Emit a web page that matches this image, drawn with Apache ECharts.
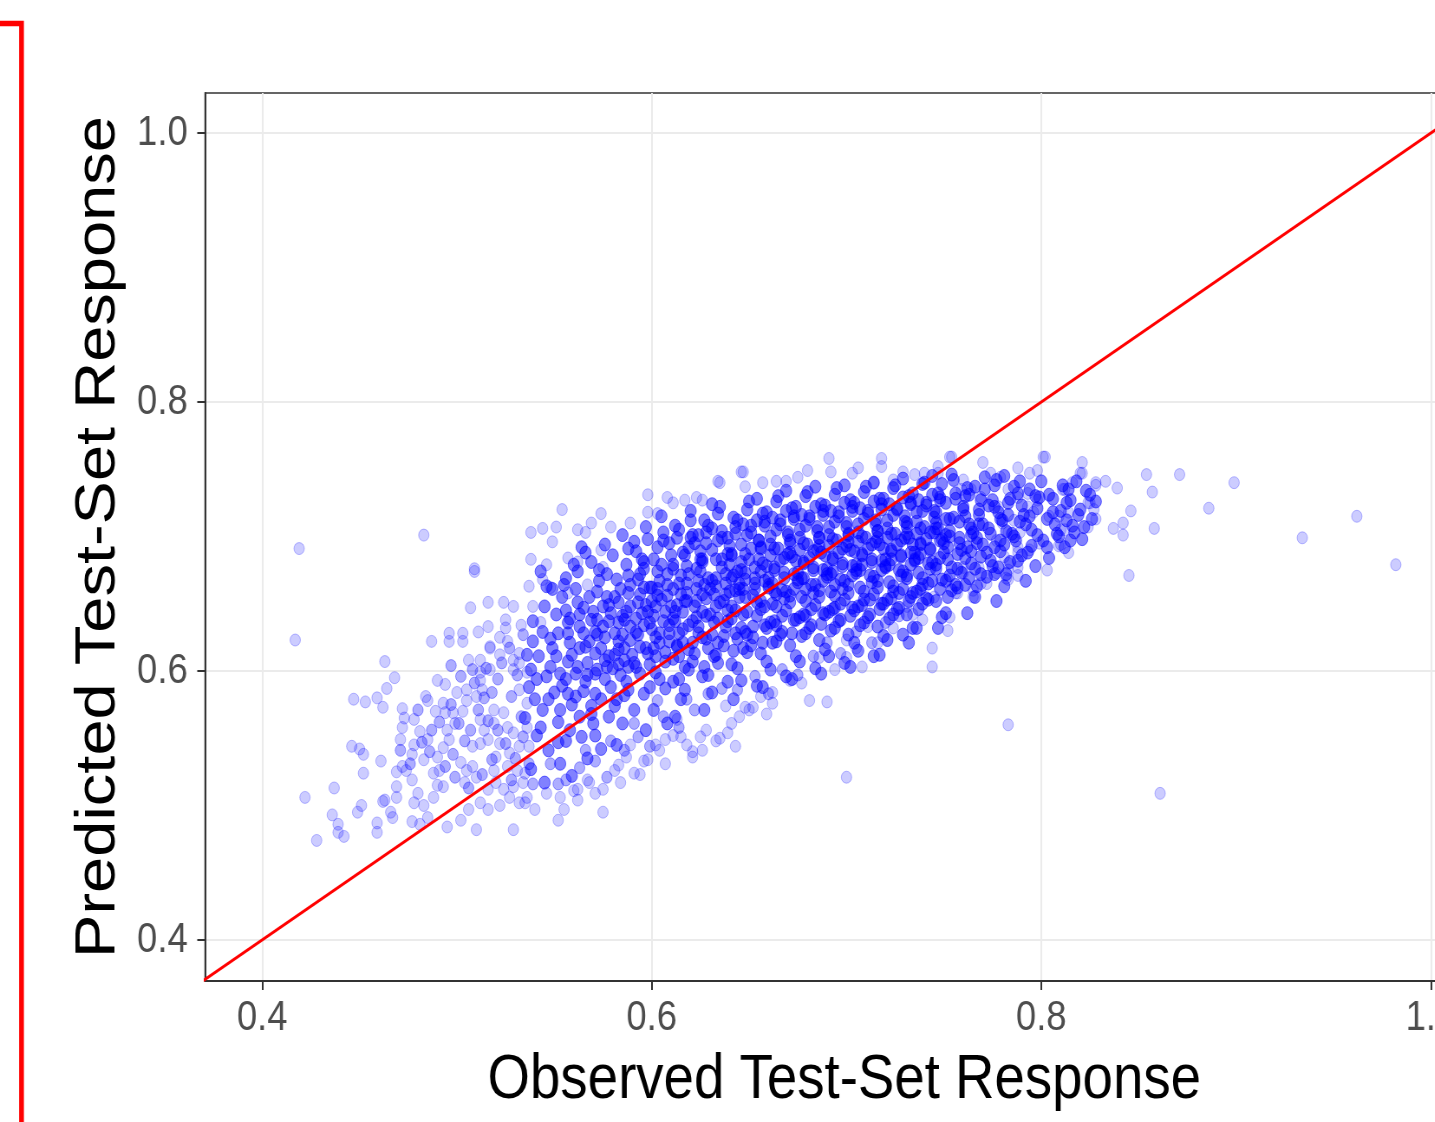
<!DOCTYPE html>
<html>
<head>
<meta charset="utf-8">
<title>Observed vs Predicted Test-Set Response</title>
<script src="https://cdn.jsdelivr.net/npm/echarts@6/dist/echarts.min.js"></script>
<style>
  html, body { margin: 0; padding: 0; background: #fff; overflow: hidden; }
  /* the source picture is squeezed sideways, so draw wide and squeeze it back */
  #chart { width: 1655px; height: 1122px; transform: scaleX(0.867); transform-origin: 0 0; }
</style>
</head>
<body>
<div id="chart"></div>
<script>
// axis ranges and ticks
const xRange = [0.3707, 1.027];
const yRange = [0.3695, 1.0297];
const xTicks = [0.4, 0.6, 0.8, 1.0];
const yTicks = [0.4, 0.6, 0.8, 1.0];
const identityLine = [0.3, 1.1];

// [observed, predicted]
const lowerTail = [
  [0.417,0.623],[0.419,0.691],[0.422,0.506],[0.428,0.474],[0.436,0.493],[0.437,0.513],[0.439,0.486],[0.439,0.480],[0.442,0.477],
  [0.446,0.544],[0.447,0.579],[0.449,0.495],[0.450,0.542],[0.451,0.500],[0.452,0.538],[0.452,0.524],[0.453,0.577],[0.459,0.580],
  [0.459,0.487],[0.459,0.480],[0.461,0.533],[0.462,0.573],[0.462,0.503],[0.463,0.607],[0.463,0.504],[0.464,0.587],[0.466,0.495],
  [0.467,0.491],[0.468,0.595],[0.469,0.506],[0.469,0.514],[0.469,0.525],[0.471,0.549],[0.472,0.529],[0.472,0.558],[0.473,0.565],
  [0.472,0.572],[0.474,0.526],[0.477,0.538],[0.477,0.519],[0.477,0.488],[0.478,0.564],[0.478,0.545],[0.478,0.502],[0.480,0.509],
  [0.481,0.555],[0.481,0.486],[0.483,0.701],[0.483,0.534],[0.483,0.500],[0.484,0.581],[0.485,0.578],[0.485,0.549],[0.485,0.491],
  [0.487,0.622],[0.488,0.524],[0.488,0.506],[0.489,0.570],[0.490,0.593],[0.490,0.536],[0.490,0.515],[0.491,0.526],[0.493,0.576],
  [0.493,0.543],[0.493,0.514],[0.494,0.590],[0.494,0.569],[0.495,0.556],[0.495,0.484],[0.496,0.622],[0.496,0.628],[0.496,0.549],
  [0.498,0.569],[0.499,0.561],[0.500,0.584],[0.502,0.532],[0.502,0.489],[0.503,0.622],[0.503,0.628],[0.503,0.570],[0.504,0.517],
  [0.505,0.578],[0.505,0.586],[0.505,0.526],[0.506,0.608],[0.506,0.497],[0.507,0.647],[0.508,0.529],[0.508,0.544],[0.509,0.674],
  [0.509,0.676],[0.510,0.581],[0.510,0.521],[0.510,0.482],[0.511,0.629],[0.512,0.593],[0.512,0.608],[0.512,0.599],[0.512,0.546],
  [0.512,0.564],[0.512,0.502],[0.513,0.586],[0.514,0.556],[0.516,0.549],[0.516,0.651],[0.516,0.633],[0.516,0.512],[0.516,0.497],
  [0.517,0.601],[0.517,0.617],[0.517,0.618],[0.519,0.561],[0.519,0.571],[0.519,0.526],[0.520,0.536],[0.520,0.517],[0.522,0.612],
  [0.522,0.546],[0.522,0.500],[0.522,0.625],[0.524,0.569],[0.524,0.512],[0.524,0.651],[0.525,0.632],[0.525,0.638],[0.526,0.622],
  [0.526,0.558],[0.526,0.529],[0.527,0.539],[0.527,0.506],[0.529,0.608],[0.529,0.554],[0.529,0.514],[0.529,0.482],[0.529,0.601],
  [0.529,0.648],[0.531,0.526],[0.532,0.613],[0.532,0.544],[0.532,0.502],[0.532,0.586],[0.532,0.606],[0.533,0.634],[0.534,0.517],
  [0.535,0.524],[0.535,0.502],[0.536,0.506],[0.536,0.558],[0.536,0.576],[0.536,0.599],[0.537,0.544],[0.537,0.663],[0.538,0.683],
  [0.538,0.703],[0.539,0.648],[0.540,0.497],[0.543,0.636],[0.544,0.706],[0.544,0.668],[0.546,0.679],[0.546,0.509],[0.548,0.662],
  [0.549,0.696],[0.551,0.707],[0.552,0.489],[0.554,0.720],[0.555,0.497],[0.557,0.684],[0.557,0.658]
];

// the busier part of the lower-left cloud and the strip under the band
const lowerBody = [
  [0.476,0.531],[0.482,0.547],[0.487,0.556],[0.491,0.562],[0.486,0.540],[0.497,0.575],[0.501,0.561],[0.504,0.548],[0.498,0.538],
  [0.507,0.556],[0.511,0.571],[0.514,0.580],[0.509,0.591],[0.518,0.584],[0.521,0.594],[0.515,0.602],[0.523,0.606],[0.527,0.617],
  [0.531,0.597],[0.528,0.581],[0.525,0.546],[0.530,0.535],[0.534,0.551],[0.533,0.566],[0.537,0.531],[0.518,0.534],[0.513,0.523],
  [0.506,0.513],[0.499,0.521],[0.494,0.529],[0.528,0.519],[0.539,0.516],[0.534,0.627],[0.521,0.556],[0.516,0.563],[0.508,0.601],
  [0.502,0.596],[0.497,0.604],[0.480,0.571],[0.471,0.541],
  [0.548,0.531],[0.556,0.519],[0.563,0.528],[0.571,0.533],[0.577,0.521],[0.586,0.541],[0.593,0.551],[0.599,0.544],[0.606,0.566],
  [0.614,0.558],[0.622,0.571],[0.629,0.583],[0.636,0.587],[0.579,0.548],[0.566,0.541],[0.552,0.516],[0.591,0.561],[0.603,0.578],
  [0.618,0.579],[0.644,0.586],[0.653,0.596],[0.660,0.583],[0.667,0.601],[0.675,0.597],[0.683,0.611],[0.690,0.621],[0.697,0.613],
  [0.705,0.629],[0.713,0.621],[0.720,0.636],[0.727,0.641]
];

// thin rim round the dense band, plus the stragglers on the right
const rim = [
  [0.562,0.705],[0.562,0.681],[0.562,0.504],[0.562,0.512],[0.566,0.703],[0.567,0.664],[0.568,0.517],[0.569,0.710],[0.571,0.509],
  [0.574,0.717],[0.574,0.690],[0.575,0.677],[0.575,0.512],[0.575,0.495],[0.579,0.707],[0.581,0.526],[0.584,0.517],[0.587,0.536],
  [0.589,0.710],[0.591,0.524],[0.594,0.523],[0.598,0.731],[0.598,0.718],[0.598,0.534],[0.602,0.545],[0.603,0.717],[0.607,0.549],
  [0.608,0.729],[0.611,0.725],[0.613,0.564],[0.615,0.551],[0.617,0.727],[0.621,0.536],[0.623,0.729],[0.625,0.551],[0.626,0.727],
  [0.626,0.541],[0.634,0.741],[0.635,0.740],[0.635,0.550],[0.639,0.554],[0.641,0.561],[0.643,0.544],[0.646,0.748],[0.647,0.748],
  [0.648,0.737],[0.648,0.573],[0.650,0.571],[0.656,0.581],[0.657,0.740],[0.662,0.584],[0.662,0.576],[0.664,0.741],[0.669,0.741],
  [0.671,0.593],[0.675,0.744],[0.677,0.591],[0.680,0.749],[0.681,0.578],[0.686,0.610],[0.690,0.577],[0.691,0.758],[0.692,0.748],
  [0.694,0.601],[0.700,0.610],[0.700,0.623],[0.700,0.521],[0.703,0.747],[0.705,0.617],[0.706,0.751],[0.708,0.603],[0.711,0.633],
  [0.714,0.740],[0.716,0.621],[0.718,0.758],[0.718,0.752],[0.724,0.742],[0.724,0.632],[0.729,0.748],[0.731,0.648],[0.734,0.642],
  [0.735,0.746],[0.739,0.638],[0.740,0.747],[0.744,0.617],[0.744,0.603],[0.745,0.655],[0.747,0.752],[0.747,0.747],[0.752,0.630],
  [0.752,0.668],[0.753,0.640],[0.753,0.759],[0.754,0.759],[0.756,0.658],[0.757,0.658],[0.759,0.735],[0.760,0.742],[0.760,0.677],
  [0.760,0.673],[0.764,0.735],[0.765,0.660],[0.765,0.655],[0.768,0.677],[0.769,0.665],[0.769,0.729],[0.770,0.755],[0.772,0.665],
  [0.774,0.747],[0.777,0.673],[0.777,0.697],[0.778,0.722],[0.779,0.744],[0.780,0.710],[0.781,0.685],[0.782,0.669],[0.783,0.668],
  [0.783,0.675],[0.783,0.735],[0.783,0.703],[0.783,0.680],[0.783,0.560],[0.786,0.712],[0.788,0.751],[0.788,0.692],[0.788,0.688],
  [0.788,0.671],[0.788,0.729],[0.788,0.677],[0.789,0.703],[0.793,0.722],[0.793,0.732],[0.794,0.747],[0.794,0.690],[0.796,0.718],
  [0.798,0.749],[0.798,0.727],[0.799,0.695],[0.801,0.759],[0.802,0.759],[0.803,0.675],[0.804,0.715],[0.809,0.715],[0.809,0.693],
  [0.810,0.694],[0.810,0.705],[0.811,0.735],[0.812,0.735],[0.812,0.705],[0.814,0.718],[0.814,0.688],[0.816,0.740],[0.820,0.747],
  [0.821,0.755],[0.821,0.747],[0.824,0.725],[0.824,0.707],[0.825,0.725],[0.827,0.720],[0.828,0.740],[0.828,0.713],[0.828,0.738],
  [0.833,0.741],[0.837,0.706],[0.839,0.736],[0.842,0.701],[0.842,0.710],[0.845,0.671],[0.846,0.719],[0.854,0.746],[0.857,0.733],
  [0.858,0.706],[0.861,0.509],[0.871,0.746],[0.886,0.721],[0.899,0.740],[0.934,0.699],[0.962,0.715],[0.982,0.679],
  [0.628,0.556],[0.633,0.548],[0.618,0.545],[0.611,0.552],[0.604,0.541],[0.596,0.533],[0.589,0.545],[0.583,0.530],[0.567,0.519],
  [0.560,0.511],[0.553,0.506],[0.607,0.531],[0.621,0.540],[0.645,0.566],[0.652,0.573],[0.659,0.568],[0.638,0.574]
];

// the heavily overplotted band, estimated strip by strip
const core = [
  [0.538,0.527],[0.541,0.552],[0.544,0.571],[0.537,0.588],[0.546,0.596],[0.542,0.611],[0.548,0.624],[0.539,0.637],[0.545,0.648],
  [0.549,0.661],[0.543,0.674],[0.536,0.612],[0.547,0.541],[0.540,0.579],[0.550,0.584],[0.545,0.517],[0.548,0.603],[0.535,0.565],
  [0.553,0.531],[0.556,0.548],[0.552,0.562],[0.559,0.575],[0.554,0.589],[0.561,0.598],[0.557,0.607],[0.563,0.617],[0.552,0.628],
  [0.558,0.639],[0.562,0.651],[0.555,0.664],[0.560,0.679],[0.564,0.692],[0.551,0.611],[0.557,0.583],[0.563,0.566],[0.559,0.522],
  [0.556,0.645],[0.562,0.603],[0.553,0.598],[0.565,0.585],[0.558,0.621],
  [0.567,0.535],[0.571,0.552],[0.569,0.568],[0.574,0.579],[0.566,0.592],[0.572,0.601],[0.578,0.611],[0.568,0.622],[0.575,0.633],
  [0.570,0.644],[0.577,0.655],[0.573,0.667],[0.569,0.681],[0.576,0.694],[0.579,0.588],[0.571,0.613],[0.576,0.625],[0.567,0.606],
  [0.579,0.643],[0.572,0.659],[0.565,0.647],[0.578,0.566],[0.574,0.542],[0.580,0.602],
  [0.582,0.545],[0.585,0.561],[0.581,0.574],[0.588,0.586],[0.584,0.597],[0.591,0.606],[0.586,0.617],[0.593,0.627],[0.583,0.636],
  [0.589,0.648],[0.594,0.657],[0.582,0.668],[0.587,0.679],[0.592,0.689],[0.585,0.701],[0.590,0.612],[0.594,0.598],[0.581,0.655],
  [0.589,0.633],[0.593,0.668],[0.586,0.582],[0.591,0.571],[0.583,0.622],[0.595,0.643],[0.588,0.691],
  [0.597,0.556],[0.601,0.571],[0.596,0.583],[0.604,0.594],[0.599,0.605],[0.607,0.614],[0.602,0.625],[0.609,0.634],[0.598,0.644],
  [0.605,0.653],[0.600,0.662],[0.608,0.672],[0.596,0.681],[0.603,0.692],[0.606,0.703],[0.601,0.641],[0.609,0.622],[0.597,0.617],
  [0.604,0.667],[0.607,0.587],[0.600,0.631],[0.610,0.648],[0.598,0.698],[0.605,0.679],[0.602,0.611],[0.608,0.561],
  [0.612,0.566],[0.615,0.579],[0.611,0.592],[0.619,0.601],[0.614,0.611],[0.621,0.621],[0.616,0.631],[0.623,0.640],[0.613,0.649],
  [0.618,0.658],[0.624,0.667],[0.611,0.676],[0.617,0.686],[0.622,0.695],[0.614,0.705],[0.620,0.712],[0.616,0.644],[0.623,0.652],
  [0.612,0.637],[0.619,0.672],[0.625,0.683],[0.613,0.618],[0.621,0.607],[0.617,0.586],[0.624,0.628],[0.611,0.661],[0.620,0.699],
  [0.627,0.571],[0.631,0.584],[0.626,0.596],[0.634,0.606],[0.629,0.617],[0.637,0.626],[0.632,0.636],[0.639,0.645],[0.628,0.654],
  [0.633,0.663],[0.638,0.672],[0.626,0.681],[0.631,0.690],[0.636,0.699],[0.629,0.708],[0.634,0.717],[0.639,0.687],[0.627,0.664],
  [0.635,0.651],[0.630,0.642],[0.638,0.633],[0.626,0.625],[0.633,0.612],[0.640,0.659],[0.628,0.695],[0.636,0.677],[0.631,0.724],
  [0.639,0.592],
  [0.642,0.579],[0.646,0.593],[0.641,0.605],[0.649,0.614],[0.644,0.624],[0.652,0.633],[0.647,0.642],[0.654,0.651],[0.643,0.660],
  [0.648,0.668],[0.653,0.677],[0.641,0.686],[0.646,0.694],[0.651,0.703],[0.644,0.712],[0.649,0.720],[0.654,0.728],[0.642,0.671],
  [0.650,0.683],[0.645,0.655],[0.653,0.661],[0.641,0.639],[0.648,0.629],[0.655,0.697],[0.643,0.702],[0.651,0.619],[0.646,0.675],
  [0.654,0.589],
  [0.657,0.588],[0.661,0.601],[0.656,0.613],[0.664,0.622],[0.659,0.632],[0.667,0.641],[0.662,0.650],[0.669,0.659],[0.658,0.667],
  [0.663,0.675],[0.668,0.684],[0.656,0.692],[0.661,0.700],[0.666,0.709],[0.659,0.718],[0.664,0.726],[0.669,0.734],[0.657,0.680],
  [0.665,0.691],[0.660,0.662],[0.668,0.669],[0.656,0.646],[0.663,0.637],[0.670,0.703],[0.658,0.708],[0.666,0.627],[0.661,0.686],
  [0.669,0.596],[0.664,0.657],
  [0.672,0.594],[0.676,0.607],[0.671,0.619],[0.679,0.628],[0.674,0.638],[0.682,0.646],[0.677,0.655],[0.684,0.664],[0.673,0.672],
  [0.678,0.680],[0.683,0.689],[0.671,0.697],[0.676,0.705],[0.681,0.713],[0.674,0.722],[0.679,0.730],[0.684,0.737],[0.672,0.685],
  [0.680,0.694],[0.675,0.666],[0.683,0.675],[0.671,0.651],[0.678,0.642],[0.685,0.707],[0.673,0.713],[0.681,0.632],[0.676,0.690],
  [0.684,0.602],[0.679,0.661],
  [0.687,0.598],[0.691,0.611],[0.686,0.623],[0.694,0.632],[0.689,0.642],[0.697,0.650],[0.692,0.659],[0.699,0.667],[0.688,0.675],
  [0.693,0.683],[0.698,0.691],[0.686,0.699],[0.691,0.707],[0.696,0.715],[0.689,0.723],[0.694,0.731],[0.699,0.738],[0.687,0.688],
  [0.695,0.697],[0.690,0.670],[0.698,0.678],[0.686,0.655],[0.693,0.646],[0.700,0.710],[0.688,0.716],[0.696,0.637],[0.691,0.693],
  [0.699,0.606],[0.694,0.664],
  [0.702,0.603],[0.706,0.615],[0.701,0.627],[0.709,0.636],[0.704,0.645],[0.712,0.653],[0.707,0.662],[0.714,0.670],[0.703,0.678],
  [0.708,0.686],[0.713,0.694],[0.701,0.701],[0.706,0.709],[0.711,0.717],[0.704,0.725],[0.709,0.733],[0.714,0.740],[0.702,0.690],
  [0.710,0.699],[0.705,0.673],[0.713,0.681],[0.701,0.658],[0.708,0.649],[0.715,0.712],[0.703,0.719],[0.711,0.640],[0.706,0.696],
  [0.714,0.611],
  [0.717,0.612],[0.721,0.623],[0.716,0.633],[0.724,0.642],[0.719,0.650],[0.727,0.658],[0.722,0.666],[0.729,0.674],[0.718,0.682],
  [0.723,0.689],[0.728,0.697],[0.716,0.704],[0.721,0.712],[0.726,0.720],[0.719,0.728],[0.724,0.736],[0.729,0.743],[0.717,0.694],
  [0.725,0.702],[0.720,0.677],[0.728,0.685],[0.716,0.662],[0.723,0.654],[0.730,0.715],[0.718,0.720],[0.726,0.646],[0.721,0.699],
  [0.729,0.627],
  [0.732,0.621],[0.736,0.632],[0.731,0.642],[0.739,0.650],[0.734,0.658],[0.742,0.665],[0.737,0.673],[0.744,0.681],[0.733,0.688],
  [0.738,0.695],[0.743,0.703],[0.731,0.710],[0.736,0.718],[0.741,0.725],[0.734,0.732],[0.739,0.739],[0.744,0.745],[0.732,0.699],
  [0.740,0.707],[0.735,0.683],[0.743,0.690],[0.731,0.669],[0.738,0.661],[0.745,0.719],[0.733,0.724],[0.741,0.654],[0.736,0.702],
  [0.747,0.632],[0.751,0.643],[0.746,0.652],[0.754,0.660],[0.749,0.668],[0.757,0.676],[0.752,0.683],[0.759,0.690],[0.748,0.697],
  [0.753,0.704],[0.758,0.711],[0.746,0.718],[0.751,0.725],[0.756,0.732],[0.749,0.739],[0.754,0.746],[0.747,0.706],[0.755,0.714],
  [0.750,0.688],[0.758,0.695],[0.746,0.679],[0.753,0.671],[0.760,0.722],[0.748,0.729],[0.756,0.664],[0.751,0.701],
  [0.762,0.643],[0.766,0.655],[0.761,0.664],[0.769,0.672],[0.764,0.680],[0.772,0.688],[0.767,0.695],[0.774,0.702],[0.763,0.709],
  [0.768,0.716],[0.773,0.723],[0.761,0.730],[0.766,0.737],[0.771,0.744],[0.764,0.701],[0.770,0.709],[0.775,0.678],[0.762,0.692],
  [0.769,0.727],
  [0.777,0.652],[0.781,0.663],[0.776,0.672],[0.784,0.681],[0.779,0.689],[0.787,0.697],[0.782,0.704],[0.789,0.711],[0.778,0.718],
  [0.783,0.725],[0.788,0.732],[0.776,0.738],[0.781,0.745],[0.786,0.700],[0.780,0.712],[0.790,0.686],
  [0.792,0.667],[0.797,0.678],[0.793,0.688],[0.801,0.697],[0.795,0.705],[0.803,0.713],[0.798,0.721],[0.806,0.728],[0.794,0.735],
  [0.800,0.741],[0.808,0.702],[0.791,0.716],[0.804,0.684],[0.799,0.729],[0.810,0.719],
  [0.812,0.692],[0.817,0.703],[0.813,0.712],[0.820,0.720],[0.815,0.727],[0.823,0.734],[0.818,0.741],[0.826,0.713],[0.821,0.698],
  [0.828,0.726],[0.814,0.735]
];

// second pass over the same band, filling between the first set
const coreFill = [
  [0.541,0.594],[0.547,0.579],[0.553,0.571],[0.544,0.629],[0.551,0.642],[0.538,0.601],[0.549,0.617],[0.554,0.655],[0.543,0.558],
  [0.552,0.547],[0.546,0.663],[0.539,0.622],
  [0.556,0.594],[0.561,0.581],[0.567,0.597],[0.559,0.612],[0.565,0.628],[0.557,0.636],[0.563,0.642],[0.568,0.655],[0.556,0.669],
  [0.562,0.674],[0.566,0.688],[0.558,0.556],[0.564,0.551],[0.569,0.574],[0.557,0.628],[0.561,0.661],
  [0.571,0.583],[0.576,0.594],[0.583,0.605],[0.574,0.617],[0.581,0.628],[0.572,0.638],[0.578,0.649],[0.584,0.661],[0.573,0.675],
  [0.580,0.686],[0.576,0.608],[0.582,0.579],[0.570,0.561],[0.585,0.641],[0.577,0.672],[0.571,0.629],[0.583,0.616],
  [0.587,0.592],[0.592,0.603],[0.598,0.613],[0.589,0.623],[0.596,0.634],[0.587,0.644],[0.593,0.651],[0.599,0.662],[0.588,0.671],
  [0.595,0.683],[0.591,0.696],[0.597,0.707],[0.586,0.608],[0.594,0.618],[0.599,0.588],[0.588,0.658],[0.596,0.676],[0.592,0.639],
  [0.585,0.627],
  [0.602,0.599],[0.607,0.607],[0.613,0.619],[0.604,0.628],[0.611,0.639],[0.602,0.648],[0.608,0.656],[0.614,0.665],[0.603,0.674],
  [0.610,0.686],[0.606,0.697],[0.612,0.708],[0.601,0.617],[0.609,0.628],[0.614,0.594],[0.603,0.661],[0.611,0.679],[0.607,0.644],
  [0.600,0.652],[0.613,0.699],[0.605,0.715],
  [0.617,0.603],[0.622,0.613],[0.628,0.624],[0.619,0.634],[0.626,0.644],[0.617,0.652],[0.623,0.661],[0.629,0.669],[0.618,0.678],
  [0.625,0.689],[0.621,0.701],[0.627,0.712],[0.616,0.621],[0.624,0.633],[0.629,0.597],[0.618,0.665],[0.626,0.683],[0.622,0.648],
  [0.615,0.657],[0.628,0.703],[0.620,0.719],[0.625,0.674],[0.619,0.692],
  [0.632,0.611],[0.637,0.619],[0.643,0.628],[0.634,0.639],[0.641,0.648],[0.632,0.657],[0.638,0.665],[0.644,0.674],[0.633,0.683],
  [0.640,0.693],[0.636,0.704],[0.642,0.714],[0.631,0.627],[0.639,0.637],[0.644,0.602],[0.633,0.669],[0.641,0.687],[0.637,0.652],
  [0.630,0.661],[0.643,0.707],[0.635,0.722],[0.640,0.679],[0.634,0.697],[0.645,0.661],
  [0.647,0.617],[0.652,0.625],[0.658,0.634],[0.649,0.644],[0.656,0.652],[0.647,0.661],[0.653,0.669],[0.659,0.678],[0.648,0.687],
  [0.655,0.697],[0.651,0.708],[0.657,0.717],[0.646,0.632],[0.654,0.641],[0.659,0.607],[0.648,0.673],[0.656,0.691],[0.652,0.656],
  [0.645,0.665],[0.658,0.711],[0.650,0.726],[0.655,0.683],[0.649,0.701],[0.660,0.664],
  [0.662,0.621],[0.667,0.629],[0.673,0.638],[0.664,0.648],[0.671,0.656],[0.662,0.665],[0.668,0.673],[0.674,0.682],[0.663,0.691],
  [0.670,0.701],[0.666,0.712],[0.672,0.721],[0.661,0.636],[0.669,0.645],[0.674,0.611],[0.663,0.677],[0.671,0.695],[0.667,0.660],
  [0.660,0.669],[0.673,0.715],[0.665,0.730],[0.670,0.687],[0.664,0.705],[0.675,0.668],
  [0.677,0.626],[0.682,0.634],[0.688,0.643],[0.679,0.652],[0.686,0.660],[0.677,0.669],[0.683,0.677],[0.689,0.686],[0.678,0.695],
  [0.685,0.704],[0.681,0.715],[0.687,0.724],[0.676,0.640],[0.684,0.649],[0.689,0.616],[0.678,0.681],[0.686,0.699],[0.682,0.664],
  [0.675,0.673],[0.688,0.719],[0.680,0.733],[0.685,0.690],[0.679,0.708],[0.690,0.672],
  [0.692,0.630],[0.697,0.638],[0.703,0.647],[0.694,0.656],[0.701,0.664],[0.692,0.672],[0.698,0.680],[0.704,0.689],[0.693,0.698],
  [0.700,0.707],[0.696,0.718],[0.702,0.727],[0.691,0.644],[0.699,0.653],[0.704,0.621],[0.693,0.684],[0.701,0.702],[0.697,0.668],
  [0.690,0.676],[0.703,0.722],[0.695,0.736],[0.700,0.693],[0.694,0.711],[0.705,0.675],
  [0.707,0.634],[0.712,0.642],[0.718,0.650],[0.709,0.659],[0.716,0.667],[0.707,0.675],[0.713,0.683],[0.719,0.691],[0.708,0.700],
  [0.715,0.709],[0.711,0.719],[0.717,0.728],[0.706,0.648],[0.714,0.657],[0.719,0.626],[0.708,0.687],[0.716,0.704],[0.712,0.671],
  [0.705,0.679],[0.718,0.724],[0.710,0.737],[0.715,0.696],[0.709,0.713],[0.720,0.678],
  [0.722,0.639],[0.727,0.647],[0.733,0.655],[0.724,0.663],[0.731,0.671],[0.722,0.679],[0.728,0.686],[0.734,0.694],[0.723,0.702],
  [0.730,0.711],[0.726,0.721],[0.732,0.730],[0.721,0.653],[0.729,0.661],[0.734,0.632],[0.723,0.690],[0.731,0.707],[0.727,0.675],
  [0.720,0.683],[0.733,0.725],[0.725,0.738],[0.730,0.699],[0.724,0.716],[0.735,0.682],
  [0.737,0.646],[0.742,0.653],[0.748,0.661],[0.739,0.669],[0.746,0.676],[0.737,0.684],[0.743,0.691],[0.749,0.698],[0.738,0.706],
  [0.745,0.714],[0.741,0.723],[0.747,0.732],[0.736,0.659],[0.744,0.667],[0.749,0.640],[0.738,0.694],[0.746,0.710],[0.742,0.680],
  [0.735,0.688],[0.748,0.727],[0.740,0.740],[0.745,0.703],[0.739,0.719],
  [0.752,0.655],[0.757,0.662],[0.763,0.669],[0.754,0.677],[0.761,0.684],[0.752,0.692],[0.758,0.699],[0.764,0.706],[0.753,0.713],
  [0.760,0.720],[0.756,0.728],[0.762,0.736],[0.751,0.667],[0.759,0.673],[0.764,0.689],[0.753,0.700],[0.761,0.715],[0.757,0.687],
  [0.750,0.695],[0.763,0.731],[0.755,0.742],
  [0.767,0.663],[0.772,0.670],[0.778,0.677],[0.769,0.685],[0.776,0.692],[0.767,0.699],[0.773,0.706],[0.779,0.713],[0.768,0.720],
  [0.775,0.727],[0.771,0.735],[0.777,0.742],[0.766,0.676],[0.774,0.682],[0.779,0.697],[0.768,0.709],[0.776,0.722],[0.770,0.694],
  [0.765,0.703],
  [0.782,0.672],[0.788,0.682],[0.795,0.693],[0.785,0.702],[0.792,0.709],[0.783,0.716],[0.790,0.723],[0.797,0.730],[0.786,0.737],
  [0.794,0.715],[0.781,0.694],[0.798,0.701],[0.789,0.741],[0.784,0.728],
  [0.803,0.692],[0.809,0.700],[0.816,0.708],[0.806,0.718],[0.813,0.725],[0.804,0.731],[0.811,0.738],[0.819,0.716],[0.825,0.731],
  [0.822,0.707],[0.807,0.709],[0.815,0.697]
];

// third pass over the darkest part of the band
const coreDark = [
  [0.583,0.651],[0.589,0.664],[0.586,0.638],[0.592,0.629],[0.597,0.649],[0.594,0.672],[0.599,0.636],[0.603,0.656],[0.606,0.637],
  [0.608,0.664],[0.612,0.644],[0.615,0.671],[0.614,0.628],[0.618,0.652],[0.621,0.637],[0.623,0.676],[0.626,0.657],[0.628,0.641],
  [0.631,0.667],[0.633,0.648],[0.636,0.683],[0.638,0.657],[0.641,0.669],[0.643,0.645],[0.646,0.681],[0.648,0.655],[0.651,0.691],
  [0.653,0.665],[0.656,0.674],[0.658,0.648],[0.661,0.694],[0.663,0.659],[0.666,0.682],[0.668,0.654],[0.671,0.688],[0.673,0.661],
  [0.676,0.699],[0.678,0.669],[0.681,0.684],[0.683,0.658],[0.686,0.693],[0.688,0.667],[0.691,0.701],[0.693,0.674],[0.696,0.688],
  [0.698,0.661],[0.701,0.696],[0.703,0.671],[0.706,0.703],[0.708,0.679],[0.711,0.691],[0.713,0.666],[0.716,0.699],[0.718,0.675],
  [0.721,0.706],[0.723,0.683],[0.726,0.694],[0.728,0.671],[0.731,0.702],[0.733,0.679],[0.736,0.711],[0.738,0.687],[0.741,0.698],
  [0.743,0.676],[0.746,0.706],[0.748,0.684],[0.751,0.713],
  [0.604,0.621],[0.611,0.609],[0.619,0.616],[0.627,0.603],[0.634,0.621],[0.642,0.615],[0.649,0.627],[0.657,0.621],[0.664,0.634],
  [0.672,0.628],[0.679,0.641],[0.687,0.635],[0.694,0.647],[0.702,0.641],[0.709,0.653],[0.717,0.646],[0.724,0.659],[0.732,0.652],
  [0.739,0.664],[0.596,0.662],[0.601,0.683],[0.609,0.695],[0.616,0.688],[0.624,0.701],[0.631,0.706],[0.639,0.699],[0.647,0.709],
  [0.654,0.712],[0.662,0.714],[0.669,0.719],[0.677,0.716],[0.684,0.722],[0.692,0.719],[0.699,0.725],[0.707,0.721],[0.714,0.726],
  [0.722,0.724],[0.729,0.729],[0.737,0.727],[0.744,0.731],[0.566,0.618],[0.572,0.627],[0.578,0.637],[0.569,0.638],[0.575,0.648],
  [0.563,0.633],[0.571,0.598],[0.577,0.603],[0.581,0.612],[0.588,0.603]
];

const font = 'Liberation Sans, Arial, sans-serif';
const chart = echarts.init(document.getElementById('chart'));

chart.setOption({
  animation: false,
  backgroundColor: '#ffffff',
  textStyle: { fontFamily: font },
  grid: {
    left: 236.5, right: -56, top: 93, bottom: 141,
    containLabel: false, outerBoundsMode: 'none',
    show: true, borderColor: '#333333', borderWidth: 1.5, backgroundColor: '#ffffff'
  },
  graphic: [{
    type: 'polyline',
    shape: { points: [[-5, 23.5], [24.8, 23.5], [24.8, 1130]] },
    style: { stroke: '#ff0000', lineWidth: 5.5, fill: null }
  }],
  xAxis: {
    type: 'value',
    min: xRange[0],
    max: xRange[1],
    name: 'Observed Test-Set Response',
    nameLocation: 'middle',
    nameGap: 68,
    nameTextStyle: { fontSize: 63, color: '#000000', fontFamily: font },
    axisLine: { onZero: false, lineStyle: { color: '#333333', width: 2 } },
    axisTick: { length: 9, customValues: xTicks, lineStyle: { color: '#333333', width: 2 } },
    axisLabel: {
      customValues: xTicks, margin: 16, fontSize: 42, color: '#4d4d4d', fontFamily: font,
      formatter: v => v.toFixed(1)
    },
    splitLine: { show: true, lineStyle: { color: '#ebebeb', width: 2 } }
  },
  yAxis: {
    type: 'value',
    min: yRange[0],
    max: yRange[1],
    name: 'Predicted Test-Set Response',
    nameLocation: 'middle',
    nameRotate: 90,
    nameGap: 90,
    nameTextStyle: { fontSize: 65, color: '#000000', fontFamily: font },
    axisLine: { show: true, onZero: false, lineStyle: { color: '#333333', width: 2 } },
    axisTick: { show: true, length: 9, customValues: yTicks, lineStyle: { color: '#333333', width: 2 } },
    axisLabel: {
      customValues: yTicks, margin: 20, fontSize: 42, color: '#4d4d4d', fontFamily: font,
      padding: [5, 0, 0, 0],
      formatter: v => v.toFixed(1)
    },
    splitLine: { show: true, lineStyle: { color: '#ebebeb', width: 2 } }
  },
  series: [
    {
      type: 'scatter',
      data: lowerTail.concat(rim),
      symbolSize: 12,
      silent: true,
      itemStyle: { color: 'rgba(0,0,255,0.25)', borderColor: 'rgba(0,0,255,0.32)', borderWidth: 1 }
    },
    {
      type: 'scatter',
      data: lowerBody,
      symbolSize: 12,
      silent: true,
      itemStyle: { color: 'rgba(0,0,255,0.4)', borderColor: 'rgba(0,0,255,0.45)', borderWidth: 1 }
    },
    {
      type: 'scatter',
      data: core.concat(coreFill, coreDark),
      symbolSize: 13,
      silent: true,
      itemStyle: { color: 'rgba(0,0,255,0.62)', borderColor: 'rgba(0,0,255,0.66)', borderWidth: 1 }
    },
    {
      type: 'line',
      data: identityLine.map(v => [v, v]),
      symbol: 'none',
      silent: true,
      z: 5,
      lineStyle: { color: '#ff0000', width: 3 }
    }
  ]
});
</script>
</body>
</html>
